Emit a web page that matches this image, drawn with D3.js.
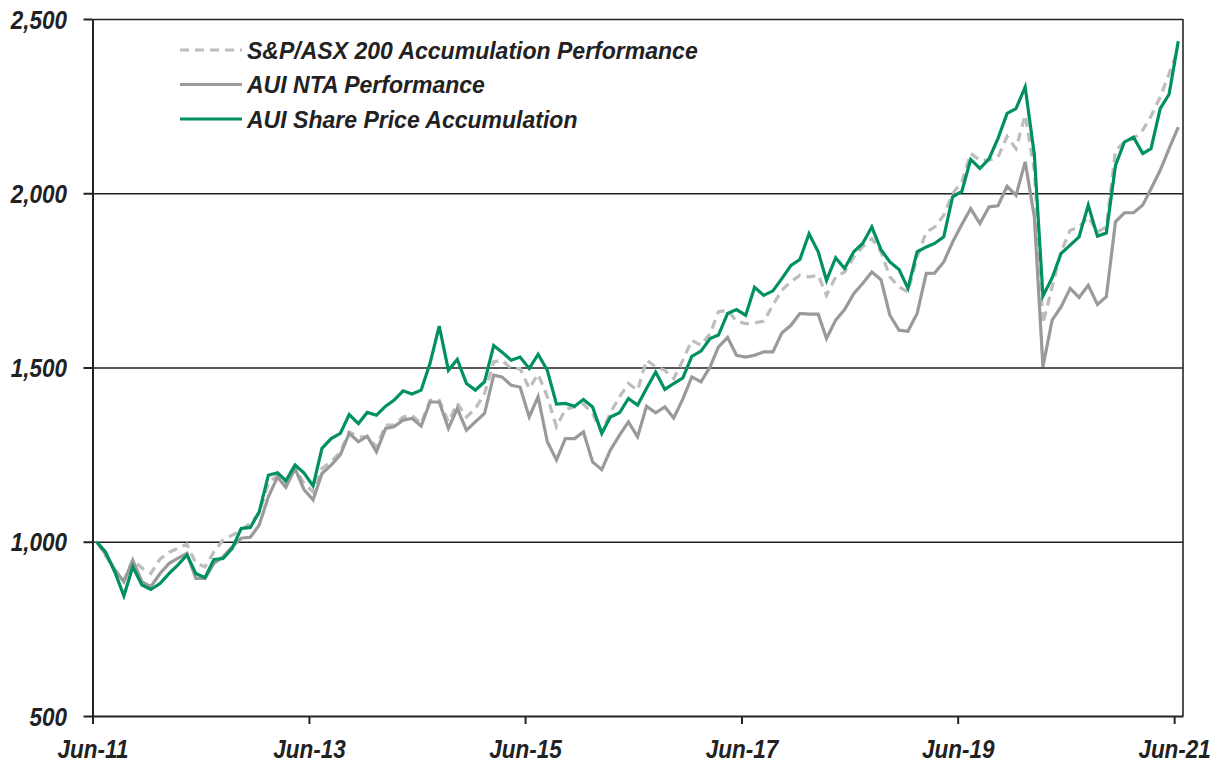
<head>
	<meta charset="utf-8">
	<script src="https://d3js.org/d3.v7.min.js"></script>
	<style>
		body {
			margin: 0;
			background: #fff;
		}
		text {
			font-family: "Liberation Sans", Arial, sans-serif;
			font-weight: bold;
			font-style: italic;
			fill: #222;
		}
		.domain, .tick line {
			stroke: #222;
		}
	</style>
</head>
<body>

<svg width="1225" height="764" id="chart"></svg>

<script>

	// monthly values, Jun-11 .. Jun-21
	var asx200 = [
		1000, 960, 920, 890, 948, 925, 909, 950, 970, 981, 993, 938, 928, 971, 1005, 1019, 1033, 1053, 1082, 1168,
		1191, 1168, 1211, 1168, 1143, 1210, 1229, 1258, 1315, 1301, 1301, 1272, 1335, 1335, 1358, 1363, 1339, 1406, 1406, 1344,
		1397, 1358, 1382, 1425, 1516, 1521, 1497, 1497, 1440, 1481, 1416, 1330, 1380, 1387, 1395, 1368, 1315, 1370, 1416, 1454,
		1435, 1521, 1502, 1492, 1468, 1521, 1578, 1564, 1597, 1660, 1664, 1633, 1626, 1628, 1633, 1679, 1722, 1746, 1765, 1760,
		1765, 1707, 1760, 1774, 1817, 1846, 1870, 1832, 1760, 1731, 1717, 1817, 1889, 1903, 1937, 1999, 2033, 2114, 2095, 2095,
		2104, 2163, 2128, 2224, 2066, 1626, 1731, 1832, 1894, 1903, 1932, 1889, 1903, 2123, 2147, 2157, 2181, 2221, 2276, 2343,
		2415
	];

	var ntaPerf = [
		1000, 965, 920, 885, 947, 885, 871, 909, 938, 952, 967, 895, 895, 938, 957, 986, 1010, 1013, 1048, 1129,
		1186, 1156, 1210, 1150, 1120, 1196, 1220, 1249, 1311, 1287, 1303, 1258, 1325, 1330, 1349, 1354, 1332, 1401, 1401, 1325,
		1382, 1320, 1344, 1368, 1478, 1473, 1449, 1444, 1358, 1416, 1287, 1235, 1296, 1296, 1315, 1229, 1207, 1263, 1306, 1344,
		1301, 1389, 1370, 1387, 1355, 1410, 1473, 1459, 1502, 1559, 1586, 1535, 1530, 1535, 1545, 1545, 1599, 1621, 1655, 1653,
		1653, 1583, 1636, 1666, 1712, 1741, 1774, 1752, 1650, 1607, 1604, 1655, 1770, 1771, 1803, 1860, 1910, 1956, 1913, 1961,
		1964, 2020, 1994, 2090, 1932, 1502, 1636, 1674, 1727, 1701, 1736, 1681, 1703, 1918, 1944, 1944, 1966, 2013, 2066, 2128,
		2190
	];

	var sharePrice = [
		1000, 971, 914, 845, 928, 876, 863, 880, 909, 933, 962, 909, 897, 949, 952, 981, 1038, 1041, 1086, 1191,
		1198, 1175, 1220, 1198, 1160, 1268, 1296, 1311, 1365, 1339, 1371, 1363, 1389, 1406, 1433, 1424, 1435, 1512, 1619, 1492,
		1523, 1454, 1435, 1459, 1563, 1544, 1521, 1530, 1497, 1538, 1492, 1395, 1397, 1389, 1408, 1387, 1311, 1358, 1370, 1411,
		1392, 1440, 1487, 1437, 1454, 1470, 1532, 1547, 1583, 1593, 1655, 1666, 1650, 1730, 1707, 1720, 1755, 1793, 1810, 1884,
		1832, 1750, 1815, 1784, 1832, 1856, 1903, 1838, 1803, 1781, 1727, 1832, 1846, 1856, 1875, 1990, 2005, 2097, 2071, 2099,
		2157, 2229, 2243, 2305, 2110, 1705, 1757, 1827, 1851, 1875, 1966, 1877, 1886, 2080, 2147, 2161, 2114, 2128, 2243, 2284,
		2436
	];

	var yTicks = [500, 1000, 1500, 2000, 2500];
	var xTicks = ["2011-06", "2013-06", "2015-06", "2017-06", "2019-06", "2021-06"];

	var seriesNames = ["S&P/ASX 200 Accumulation Performance", "AUI NTA Performance", "AUI Share Price Accumulation"];

	var months = asx200.map((d, i) => new Date(2011, 5 + i, 15));

	var series = [
		{name: seriesNames[0], values: asx200, color: "#bdbdbd", dash: "9,6"},
		{name: seriesNames[1], values: ntaPerf, color: "#9a9a9c", dash: null},
		{name: seriesNames[2], values: sharePrice, color: "#00915c", dash: null}
	];

	var svg = d3.select("#chart"),
		margin = {top: 19, right: 42, bottom: 48, left: 92.5},
		width = +svg.attr("width") - margin.left - margin.right,
		height = +svg.attr("height") - margin.top - margin.bottom;

	var g = svg.append("g")
		.attr("transform", "translate(" + margin.left + "," + margin.top + ")");

	var x = d3.scaleTime()
		.domain([new Date(2011, 5, 1), new Date(2021, 6, 1)])
		.range([0, width]);

	var y = d3.scaleLinear()
		.domain([500, 2500])
		.range([height, 0]);

	var parseMonth = d3.timeParse("%Y-%m");
	var squeeze = 0.9; // labels in the original are a narrow face

	// gridlines
	g.append("g")
		.attr("class", "grid")
		.call(d3.axisLeft(y).tickValues(yTicks.slice(1)).tickSize(-width).tickFormat(""))
		.call(s => s.select(".domain").remove())
		.selectAll("line")
		.attr("stroke", "#262626")
		.attr("stroke-width", 1.6);

	// right border
	g.append("line")
		.attr("x1", width).attr("x2", width)
		.attr("y1", 0).attr("y2", height)
		.attr("stroke", "#262626")
		.attr("stroke-width", 1.6);

	var line = d3.line()
		.x((d, i) => x(months[i]))
		.y(d => y(d));

	g.selectAll(".series")
		.data(series)
		.enter().append("path")
		.attr("class", "series")
		.attr("fill", "none")
		.attr("stroke", d => d.color)
		.attr("stroke-width", 3.2)
		.attr("stroke-linejoin", "miter")
		.attr("stroke-dasharray", d => d.dash)
		.attr("d", d => line(d.values));

	var yAxis = g.append("g")
		.call(d3.axisLeft(y).tickValues(yTicks).tickFormat(d3.format(",")).tickSize(9).tickSizeOuter(0));

	var xAxis = g.append("g")
		.attr("transform", "translate(0," + height + ")")
		.call(d3.axisBottom(x).tickValues(xTicks.map(parseMonth)).tickFormat(d3.timeFormat("%b-%y")).tickSize(8).tickSizeOuter(0));

	[yAxis, xAxis].forEach(a => {
		a.attr("font-size", null).attr("font-family", null);
		a.select(".domain").attr("stroke-width", 2);
		a.selectAll(".tick line").attr("stroke-width", 2);
		a.selectAll("text")
			.style("font-size", "25px")
			.attr("fill", "#222")
			.attr("transform", `scale(${squeeze},1)`);
	});

	yAxis.selectAll("text").attr("x", -25.5 / squeeze).attr("dy", "0.36em");
	xAxis.selectAll("text").attr("y", 42).attr("dy", null);

	// legend
	var legend = svg.selectAll(".legend")
		.data(series)
		.enter().append("g")
		.attr("class", "legend")
		.attr("transform", (d, i) => `translate(180,${50 + i * 34.5})`);

	legend.append("line")
		.attr("x1", 0).attr("x2", 62)
		.attr("stroke", d => d.color)
		.attr("stroke-width", 3.2)
		.attr("stroke-dasharray", d => d.dash);

	legend.append("text")
		.attr("x", 67 / 0.94)
		.attr("dy", "0.36em")
		.attr("transform", "scale(0.94,1)")
		.style("font-size", "24.5px")
		.text(d => d.name);

</script>
</body>
